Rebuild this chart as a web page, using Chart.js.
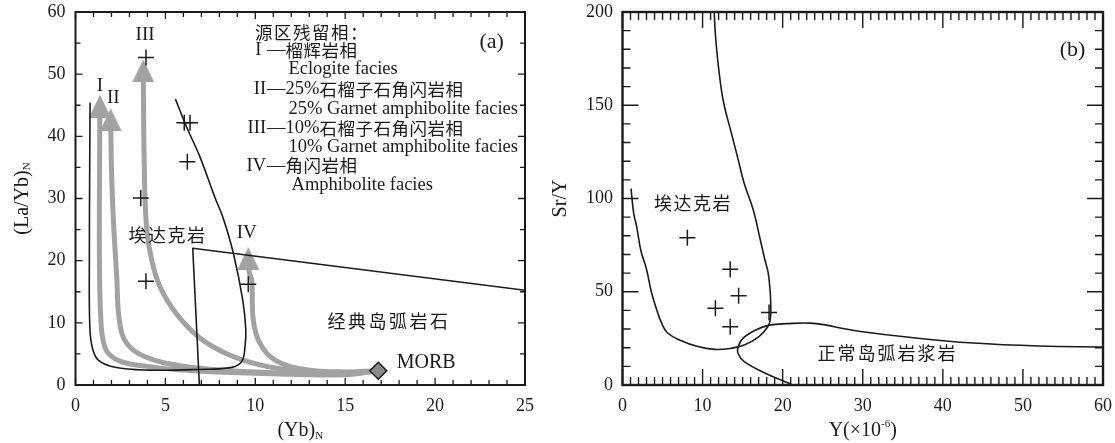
<!DOCTYPE html>
<html>
<head>
<meta charset="utf-8">
<script src="https://cdn.jsdelivr.net/npm/chart.js@4.4.1/dist/chart.umd.min.js"></script>
<style>
  html, body { margin: 0; padding: 0; background: #fff; }
  #wrap { position: relative; width: 1115px; height: 443px; overflow: hidden; }
  canvas { position: absolute; top: 0; }
  #chartA { left: 0; }
  #chartB { left: 530px; }
</style>
</head>
<body>
<div id="wrap">
  <canvas id="chartA" width="555" height="443"></canvas>
  <canvas id="chartB" width="585" height="443"></canvas>
</div>
<script>
const SERIF = '"Liberation Serif", "Times New Roman", serif';
const CJK = '"Noto Sans CJK SC", sans-serif';
const INK = '#1b1b1b';
const ARROW = '#a2a2a2';

// ---------- (a) (La/Yb)N – (Yb)N ----------
const xTicksA = [0, 5, 10, 15, 20, 25];
const yTicksA = [0, 10, 20, 30, 40, 50, 60];

// adakite field boundary
const adakiteA = [[5.57, 45.9], [6.18, 41.5], [6.92, 36.7], [7.75, 30.2], [8.22, 26.8], [8.78, 21.2],
  [9.3, 13.7], [9.47, 9.0], [9.43, 6.2], [9.24, 3.75], [8.69, 2.84], [6.83, 2.5], [4.05, 2.4],
  [2.2, 2.85], [1.27, 4.0], [0.92, 6.2], [0.79, 10], [0.77, 20], [0.79, 35], [0.81, 45.3]];
// classic island-arc field boundary
const arcA = [[6.89, 0], [6.52, 22.0], [25, 15.25]];

// melting trends from MORB (I, II, III, IV)
const trendI = [[1.36, 44.8], [1.33, 30], [1.34, 17], [1.42, 10], [1.55, 7], [1.85, 5], [2.6, 3.7],
  [4.0, 3.0], [5.5, 2.5], [8.7, 2.0], [12.4, 1.7], [15.0, 1.65], [16.8, 2.3]];
const trendII = [[1.96, 42.6], [2.0, 35], [2.1, 27], [2.3, 17], [2.44, 10.4], [2.85, 6.7], [3.87, 4.55],
  [5.91, 3.05], [8.69, 2.3], [12.0, 1.9], [15.0, 1.75], [16.8, 2.3]];
const trendIII = [[3.77, 50.5], [3.8, 40], [3.87, 29.7], [3.99, 24.4], [4.24, 20.1], [4.7, 15.8],
  [5.6, 11.5], [6.9, 7.6], [8.5, 4.9], [10.3, 3.2], [12.1, 2.4], [15.0, 1.95], [16.8, 2.3]];
const trendIV = [[9.61, 20.3], [9.67, 18], [9.8, 16.9], [9.89, 10.4], [10.26, 6.7], [11.1, 4.0],
  [12.76, 2.5], [15.0, 2.1], [16.8, 2.3]];
const headsA = [[1.36, 44.85], [1.96, 42.65], [3.77, 50.55], [9.61, 20.35]];

const samplesA = [[3.92, 52.7], [6.05, 42.2], [6.37, 42.2], [6.22, 35.9], [3.63, 30.1], [3.92, 16.7], [9.61, 16.2]];
const morb = [[16.84, 2.3]];

// ---------- (b) Sr/Y – Y ----------
const xTicksB = [0, 10, 20, 30, 40, 50, 60];
const yTicksB = [0, 50, 100, 150, 200];

const adakiteB = [[1.07, 105], [1.4, 92], [1.77, 84.9], [2.3, 72], [3.02, 61.7], [3.6, 50], [4.3, 40],
  [4.9, 33], [5.6, 28], [7.2, 24], [9.4, 20.6], [11.45, 19.1], [13.45, 19.6], [15.2, 21.4],
  [17.0, 25.8], [18.1, 31], [18.45, 35], [18.5, 45], [18.4, 52], [18.2, 60], [17.79, 67],
  [17.2, 78], [16.33, 93.8], [15.2, 108], [14.46, 120.6], [13.6, 135], [12.6, 152], [12.0, 170],
  [11.6, 188], [11.45, 200]];
const arcB = [[21.0, 0.5], [17.9, 6.2], [15.2, 12.5], [14.43, 16.9], [14.45, 20.5], [15.0, 24.9],
  [16.57, 29.4], [18.35, 32.1], [20.6, 32.9], [23.4, 33.2], [25.5, 32.1], [27.2, 30.6],
  [29.5, 28.8], [35.5, 25.7], [43.8, 22.5], [52.1, 20.9], [60, 20.4]];
const samplesB = [[8.1, 79], [13.45, 62], [14.5, 47.8], [11.6, 41.2], [13.45, 31.2], [18.3, 38.9]];

// ---------- helpers ----------
const pts = arr => arr.map(([x, y]) => ({x, y}));
const f = (size, fam) => `${size}px ${fam}`;

function lineSet(arr, color, width, tension) {
  return {
    data: pts(arr), showLine: true, borderColor: color, borderWidth: width,
    pointRadius: 0, pointHoverRadius: 0, tension, fill: false,
    borderCapStyle: 'round', borderJoinStyle: 'round'
  };
}

function markSet(arr, style, radius, extra) {
  return Object.assign({
    data: pts(arr), showLine: false, pointStyle: style, pointRadius: radius,
    pointHoverRadius: radius, borderColor: INK, borderWidth: 1.5, backgroundColor: INK
  }, extra || {});
}

// filled arrow head, tip up
function headImage(w, h, color) {
  const c = document.createElement('canvas');
  c.width = w; c.height = h;
  const g = c.getContext('2d');
  g.fillStyle = color;
  g.beginPath();
  g.moveTo(w / 2, 0); g.lineTo(w, h); g.lineTo(0, h);
  g.closePath(); g.fill();
  return c;
}

// fixed axis box; the label overhang is not allowed to push the plot area
function axis(ticks, min, max, size, pad) {
  return {
    type: 'linear', min, max,
    afterBuildTicks: s => { s.ticks = ticks.map(value => ({value})); },
    afterFit: s => {
      if (s.isHorizontal()) { s.height = size; s.paddingLeft = 0; s.paddingRight = 0; }
      else { s.width = size; s.paddingTop = 0; s.paddingBottom = 0; }
    },
    ticks: { font: {family: SERIF, size: 18}, color: INK, padding: pad, maxRotation: 0, autoSkip: false },
    grid: { display: false, drawTicks: false },
    border: { display: false }
  };
}

// text pieces with their own fonts, laid out left to right
function drawSegs(ctx, x, y, segs, align) {
  let total = 0;
  const m = segs.map(s => {
    ctx.font = s.font;
    ctx.letterSpacing = (s.sp || 0) + 'px';
    const w = ctx.measureText(s.t).width;
    total += w;
    return w;
  });
  let cx = align === 'center' ? x - total / 2 : align === 'right' ? x - total : x;
  segs.forEach((s, i) => {
    ctx.font = s.font;
    ctx.letterSpacing = (s.sp || 0) + 'px';
    ctx.fillText(s.t, cx, y + (s.dy || 0));
    cx += m[i];
  });
  ctx.letterSpacing = '0px';
}

// boxed frame with inward ticks on all four sides
const frameTicks = {
  id: 'frameTicks',
  afterDatasetsDraw(chart, args, o) {
    const {ctx, chartArea: a, scales: {x, y}} = chart;
    const isMajor = (v, step) => Math.abs(v / step - Math.round(v / step)) < 1e-6;
    ctx.save();
    ctx.strokeStyle = INK;
    ctx.lineWidth = o.tickWidth;
    ctx.beginPath();
    for (let i = 0; x.min + i * o.xMinor <= x.max + 1e-9; i++) {
      const v = x.min + i * o.xMinor;
      const px = x.getPixelForValue(v);
      const len = isMajor(v, o.xMajor) ? o.major : o.minor;
      ctx.moveTo(px, a.bottom); ctx.lineTo(px, a.bottom - len);
      ctx.moveTo(px, a.top); ctx.lineTo(px, a.top + len);
    }
    for (let i = 0; y.min + i * o.yMinor <= y.max + 1e-9; i++) {
      const v = y.min + i * o.yMinor;
      const py = y.getPixelForValue(v);
      const len = isMajor(v, o.yMajor) ? o.major : o.minor;
      ctx.moveTo(a.left, py); ctx.lineTo(a.left + len, py);
      ctx.moveTo(a.right, py); ctx.lineTo(a.right - len, py);
    }
    ctx.stroke();
    ctx.lineWidth = o.frameWidth;
    ctx.strokeRect(a.left, a.top, a.right - a.left, a.bottom - a.top);
    ctx.restore();
  }
};

// labels placed at data coordinates plus the two axis titles
const notes = {
  id: 'notes',
  afterDatasetsDraw(chart, args, o) {
    const {ctx, chartArea: a, scales: {x, y}} = chart;
    ctx.save();
    ctx.fillStyle = INK;
    ctx.textBaseline = 'middle';
    ctx.textAlign = 'left';
    for (const n of o.items) {
      drawSegs(ctx, x.getPixelForValue(n.x), y.getPixelForValue(n.y), n.segs, n.align);
    }
    drawSegs(ctx, (a.left + a.right) / 2, a.bottom + o.xTitleGap, o.xTitle, 'center');
    ctx.translate(a.left - o.yTitleGap, (a.top + a.bottom) / 2);
    ctx.rotate(-Math.PI / 2);
    drawSegs(ctx, 0, 0, o.yTitle, 'center');
    ctx.restore();
  }
};

const T18 = f(18.5, SERIF), C17 = f(17.5, CJK), T20 = f(20, SERIF), T11 = f(11, SERIF);
const head = headImage(22, 23, ARROW);

// ---------- chart (a) ----------
new Chart(document.getElementById('chartA'), {
  type: 'scatter',
  data: {
    datasets: [
      markSet(samplesA, 'cross', 8),
      markSet(morb, 'rectRot', 8.5, {backgroundColor: '#8a8a8a', borderColor: INK, borderWidth: 1.5}),
      lineSet(adakiteA, INK, 1.6, 0.4),
      lineSet(arcA, INK, 1.6, 0),
      markSet(headsA, head, 10, {borderWidth: 0}),
      lineSet(trendI, ARROW, 5, 0.4),
      lineSet(trendII, ARROW, 5, 0.4),
      lineSet(trendIII, ARROW, 5, 0.4),
      lineSet(trendIV, ARROW, 5, 0.4)
    ]
  },
  options: {
    responsive: false, animation: false, devicePixelRatio: 1,
    layout: { padding: {top: 12, right: 30, left: 0, bottom: 0} },
    plugins: {
      legend: {display: false}, tooltip: {enabled: false},
      frameTicks: {xMinor: 1, xMajor: 5, yMinor: 5, yMajor: 10, minor: 5, major: 7, tickWidth: 1.3, frameWidth: 2},
      notes: {
        xTitleGap: 46, yTitleGap: 53,
        xTitle: [{t: '(Yb)', font: T20}, {t: 'N', font: T11, dy: 5}],
        yTitle: [{t: '(La/Yb)', font: T20}, {t: 'N', font: T11, dy: 5}],
        items: [
          {x: 3.87, y: 56.3, align: 'center', segs: [{t: 'III', font: f(19, SERIF)}]},
          {x: 1.36, y: 48.1, align: 'center', segs: [{t: 'I', font: f(19, SERIF)}]},
          {x: 2.1, y: 46.1, align: 'center', segs: [{t: 'II', font: f(19, SERIF)}]},
          {x: 9.52, y: 24.4, align: 'center', segs: [{t: 'IV', font: f(19, SERIF)}]},
          {x: 5.12, y: 24.1, align: 'center', segs: [{t: '埃达克岩', font: f(18, CJK), sp: 1.5}]},
          {x: 17.44, y: 10.2, align: 'center', segs: [{t: '经典岛弧岩石', font: f(18, CJK), sp: 2.5}]},
          {x: 17.87, y: 3.5, segs: [{t: 'MORB', font: f(20, SERIF)}]},
          {x: 23.15, y: 55.1, align: 'center', segs: [{t: '(a)', font: f(22, SERIF)}]},
          {x: 9.98, y: 56.8, segs: [{t: '源区残留相：', font: C17, sp: 1.5}]},
          {x: 10.6, y: 53.86, align: 'right', segs: [{t: 'I ', font: T18}]},
          {x: 10.65, y: 53.86, segs: [{t: '—', font: T18}, {t: '榴辉岩相', font: C17, sp: 0.5}]},
          {x: 11.84, y: 50.75, segs: [{t: 'Eclogite facies', font: T18}]},
          {x: 10.6, y: 47.54, align: 'right', segs: [{t: 'II', font: T18}]},
          {x: 10.65, y: 47.54, segs: [{t: '—25%', font: T18}, {t: '石榴子石角闪岩相', font: C17, sp: 0.5}]},
          {x: 11.84, y: 44.32, segs: [{t: '25% Garnet amphibolite facies', font: T18}]},
          {x: 10.6, y: 41.27, align: 'right', segs: [{t: 'III', font: T18}]},
          {x: 10.65, y: 41.27, segs: [{t: '—10%', font: T18}, {t: '石榴子石角闪岩相', font: C17, sp: 0.5}]},
          {x: 11.84, y: 38.31, segs: [{t: '10% Garnet amphibolite facies', font: T18}]},
          {x: 10.6, y: 35.26, align: 'right', segs: [{t: 'IV', font: T18}]},
          {x: 10.65, y: 35.26, segs: [{t: '—', font: T18}, {t: '角闪岩相', font: C17, sp: 0.5}]},
          {x: 12.02, y: 32.15, segs: [{t: 'Amphibolite facies', font: T18}]}
        ]
      }
    },
    scales: {
      x: axis(xTicksA, 0, 25, 58, 10),
      y: axis(yTicksA, 0, 60, 75.5, 10)
    }
  },
  plugins: [frameTicks, notes]
});

// ---------- chart (b) ----------
new Chart(document.getElementById('chartB'), {
  type: 'scatter',
  data: {
    datasets: [
      markSet(samplesB, 'cross', 8),
      lineSet(adakiteB, INK, 1.6, 0.4),
      lineSet(arcB, INK, 1.6, 0.4)
    ]
  },
  options: {
    responsive: false, animation: false, devicePixelRatio: 1,
    layout: { padding: {top: 12, right: 12, left: 0, bottom: 0} },
    plugins: {
      legend: {display: false}, tooltip: {enabled: false},
      frameTicks: {xMinor: 1, xMajor: 10, yMinor: 10, yMajor: 50, minor: 8, major: 16, tickWidth: 1.4, frameWidth: 2.4},
      notes: {
        xTitleGap: 46, yTitleGap: 62,
        xTitle: [{t: 'Y(×10', font: T20}, {t: '-6', font: T11, dy: -7}, {t: ')', font: T20}],
        yTitle: [{t: 'Sr/Y', font: T20}],
        items: [
          {x: 8.8, y: 97.6, align: 'center', segs: [{t: '埃达克岩', font: f(18, CJK), sp: 1.5}]},
          {x: 33.1, y: 17, align: 'center', segs: [{t: '正常岛弧岩浆岩', font: f(18, CJK), sp: 2}]},
          {x: 56.2, y: 179.6, align: 'center', segs: [{t: '(b)', font: f(22, SERIF)}]}
        ]
      }
    },
    scales: {
      x: axis(xTicksB, 0, 60, 58, 10),
      y: axis(yTicksB, 0, 200, 92.5, 9.5)
    }
  },
  plugins: [frameTicks, notes]
});
</script>
</body>
</html>
